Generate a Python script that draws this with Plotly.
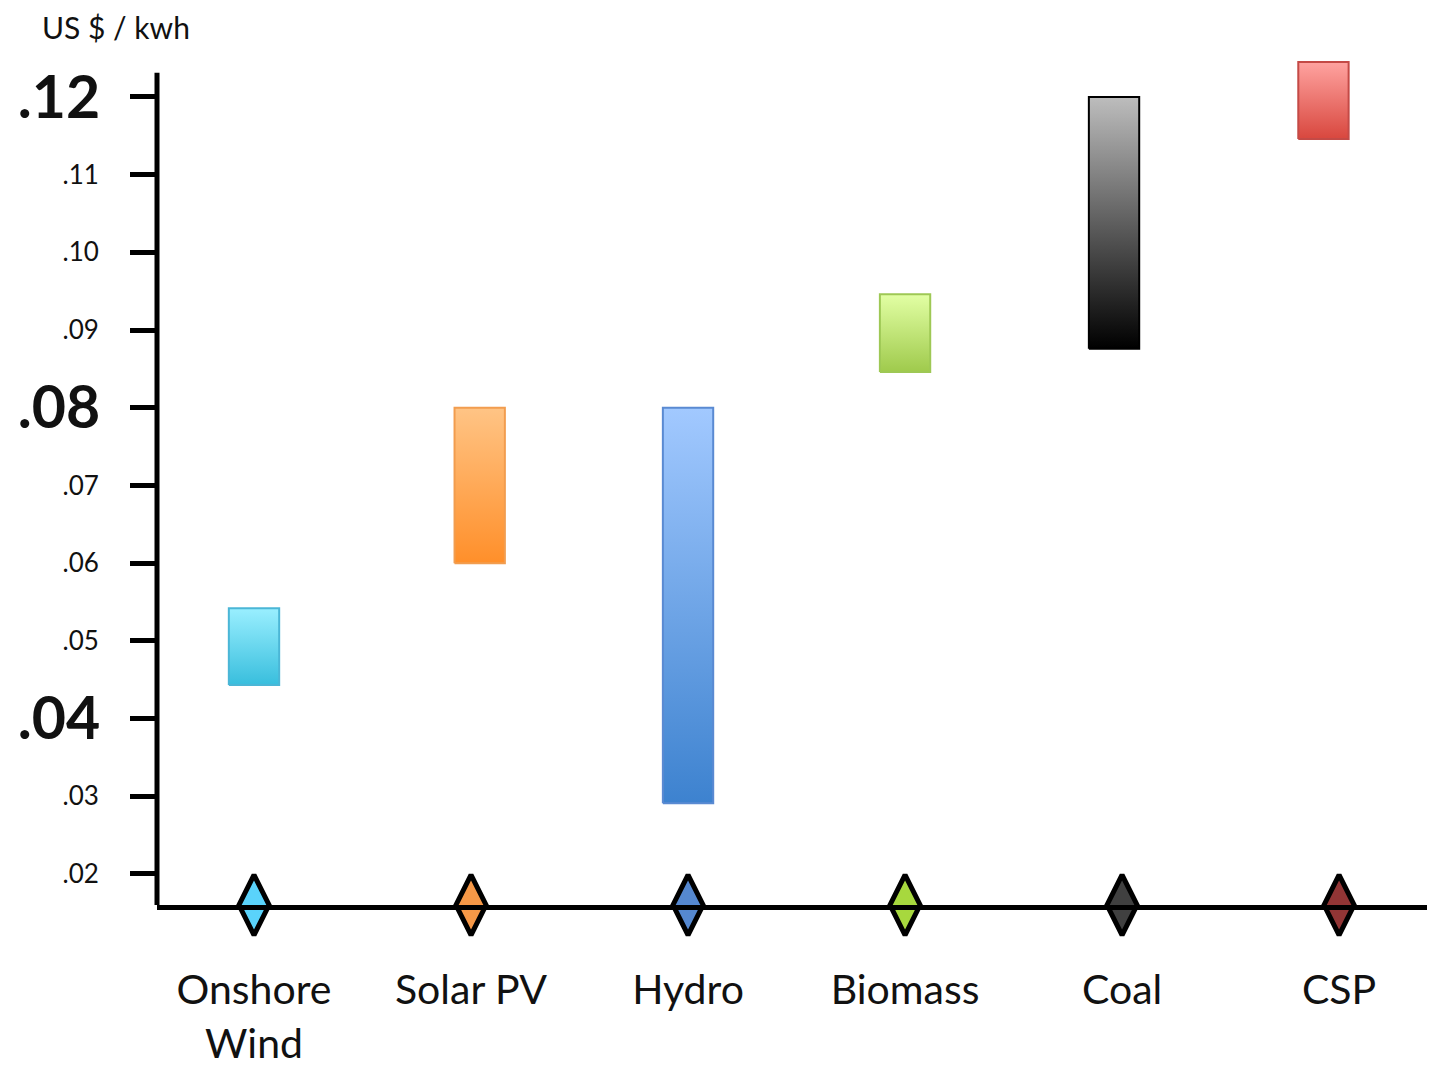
import plotly.graph_objects as go

categories = ["Onshore<br>Wind", "Solar PV", "Hydro", "Biomass", "Coal", "CSP"]
low_vals = [0.0443, 0.060, 0.0291, 0.0846, 0.0876, 0.1146]
high_vals = [0.0542, 0.080, 0.080, 0.0946, 0.120, 0.1245]
top_colors = ["#9aefff", "#ffc485", "#a2c9ff", "#e2ffa4", "#bdbdbd", "#ffa3a0"]
bottom_colors = ["#38bedd", "#ff8f2a", "#3d82cf", "#9fca4c", "#000000", "#d8473e"]
edge_colors = ["#4bb6d6", "#f29d4f", "#5a8ad2", "#9ec855", "#000000", "#c44a46"]
diamond_colors = ["#5ad3fb", "#f69847", "#5588d0", "#a7d83e", "#404040", "#923535"]

tick_vals = [0.02, 0.03, 0.04, 0.05, 0.06, 0.07, 0.08, 0.09, 0.10, 0.11, 0.12]
tick_text = [".02", ".03", ".04", ".05", ".06", ".07", ".08", ".09", ".10", ".11", ".12"]
bold_ticks = [".04", ".08", ".12"]

# layout tweaks: small horizontal nudges of the range boxes relative to their category
bar_nudge = [0.0, 0.04, 0.0, 0.0, -0.037, -0.072]

y_base = 0.016
y_axis_top = 0.1231
y_range = [y_base, 0.1254]
half_w = 0.116

fig = go.Figure()

for i, cat in enumerate(categories):
    lo, hi = low_vals[i], high_vals[i]
    c = i + bar_nudge[i]
    fig.add_trace(go.Scatter(
        x=[c - half_w, c + half_w, c + half_w, c - half_w, c - half_w],
        y=[lo, lo, hi, hi, lo],
        mode="lines",
        fill="toself",
        fillgradient=dict(type="vertical",
                          colorscale=[[0, bottom_colors[i]], [1, top_colors[i]]]),
        line=dict(color=edge_colors[i], width=2),
        hoverinfo="skip",
        showlegend=False,
        cliponaxis=False,
    ))

fig.add_trace(go.Scatter(
    x=list(range(len(categories))),
    y=[y_base] * len(categories),
    mode="markers",
    marker=dict(symbol="diamond-tall", size=43, color=diamond_colors,
                line=dict(color="black", width=5)),
    cliponaxis=False,
    showlegend=False,
    hoverinfo="skip",
))

small_text = ["" if t in bold_ticks else t for t in tick_text]
big_vals = [v for v, t in zip(tick_vals, tick_text) if t in bold_ticks]
big_text = [t for t in tick_text if t in bold_ticks]

# invisible trace to anchor the overlay axis for the bold labels
fig.add_trace(go.Scatter(x=[0], y=[y_base], yaxis="y2", mode="markers",
                         marker=dict(opacity=0), showlegend=False, hoverinfo="skip"))

fig.add_shape(type="line", xref="paper", yref="y", x0=0, x1=0,
              y0=y_base, y1=y_axis_top, line=dict(color="black", width=5))

fig.add_annotation(text="US $ / kwh", xref="paper", yref="paper",
                   x=-0.0916, y=1.0335, xanchor="left", yanchor="middle",
                   showarrow=False, font=dict(size=30, color="#111", family="Lato"))

fig.update_layout(
    width=1427, height=1060,
    margin=dict(l=149, r=0, t=47, b=163),
    paper_bgcolor="white", plot_bgcolor="white",
    font=dict(family="Lato", color="#111"),
    xaxis=dict(range=[-0.447, 5.442], tickvals=list(range(len(categories))),
               ticktext=categories, showgrid=False, zeroline=False,
               showline=True, linecolor="black", linewidth=5, ticks="",
               tickfont=dict(size=41, color="#111"), ticklabelstandoff=45,
               automargin=False),
    yaxis=dict(range=y_range, tickvals=tick_vals, ticktext=small_text,
               showgrid=False, zeroline=False, showline=False,
               ticks="outside", ticklen=26, tickwidth=5, tickcolor="black",
               tickfont=dict(size=26, color="#111"), ticklabelstandoff=26,
               automargin=False),
    yaxis2=dict(range=y_range, overlaying="y", side="left", anchor="x",
                tickvals=big_vals, ticktext=big_text,
                showgrid=False, zeroline=False, showline=False,
                ticks="outside", ticklen=26, tickwidth=0, tickcolor="rgba(0,0,0,0)",
                tickfont=dict(size=59, color="#111", weight="bold"),
                ticklabelstandoff=18, automargin=False),
)

fig.write_html("out.html")
